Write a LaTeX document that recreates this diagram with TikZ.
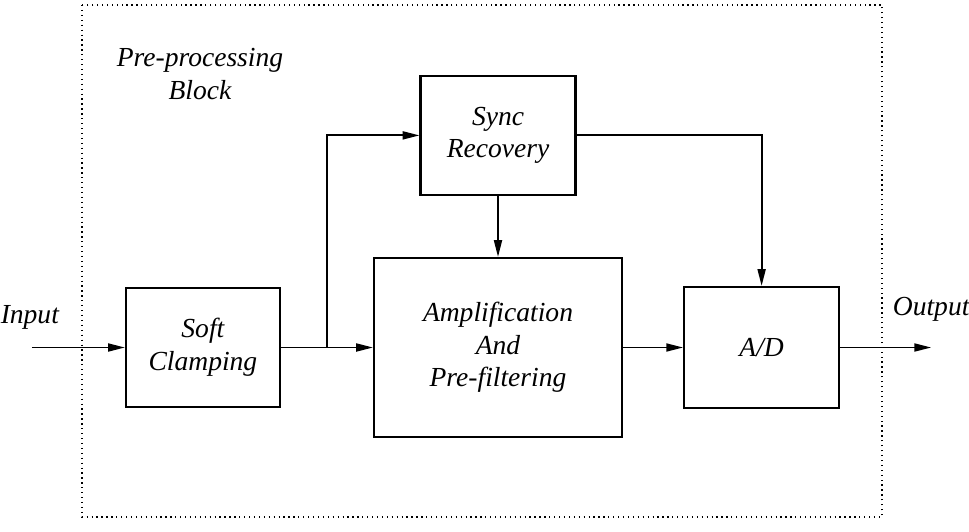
\documentclass[tikz,border=0pt]{standalone}
\usepackage{fontspec}
\setmainfont{Liberation Serif}
\usepackage{tikz}
\usetikzlibrary{arrows.meta, positioning}

\begin{document}
\begin{tikzpicture}[
  blk/.style={rectangle, draw, line width=1.5pt, align=center, font=\fontsize{19.6}{23.2}\selectfont\itshape},
  lbl/.style={align=center, inner sep=0pt, font=\fontsize{19.6}{23.2}\selectfont\itshape},
  arr/.style={line width=1.3pt, -{Triangle[length=4.2mm, width=2mm]}},
  frame/.style={line width=1.1pt, dash pattern=on 0.9pt off 2.6pt}
]
  \useasboundingbox (0,0) rectangle (24.225,-13.275);
  \draw[frame] (2.05,-0.125) rectangle (22.05,-12.925);

  \node[blk, minimum width=6.2cm, minimum height=4.475cm] (amp) at (12.45,-8.6875) {Amplification\\And\\Pre-filtering};
  \node[blk, minimum width=3.85cm, minimum height=2.975cm, left=2.3cm of amp] (clamp) {Soft\\Clamping};
  \node[blk, minimum width=3.875cm, minimum height=2.975cm, above=1.525cm of amp] (sync) {Sync\\Recovery};
  \node[blk, minimum width=3.875cm, minimum height=3.025cm, right=1.5cm of amp] (ad) {A/D};

  \coordinate[left=2.325cm of clamp] (src);
  \coordinate[right=1.15cm of clamp] (split);
  \coordinate[right=2.275cm of ad] (sink);

  \node[lbl] (inlbl) at ([xshift=-0.05cm, yshift=0.75cm]src) {Input};
  \node[lbl] (outlbl) at ([yshift=0.95cm]sink) {Output};
  \node[lbl] (blocklbl) at (5.0,-1.85) {Pre-processing\\Block};

  \draw[arr] (src) -- (clamp);
  \draw[arr] (clamp) -- (amp);
  \draw[arr] (split) |- (sync);
  \draw[arr] (sync) -- (amp);
  \draw[arr] (sync) -| (ad);
  \draw[arr] (amp) -- (ad);
  \draw[arr] (ad) -- (sink);
\end{tikzpicture}
\end{document}
